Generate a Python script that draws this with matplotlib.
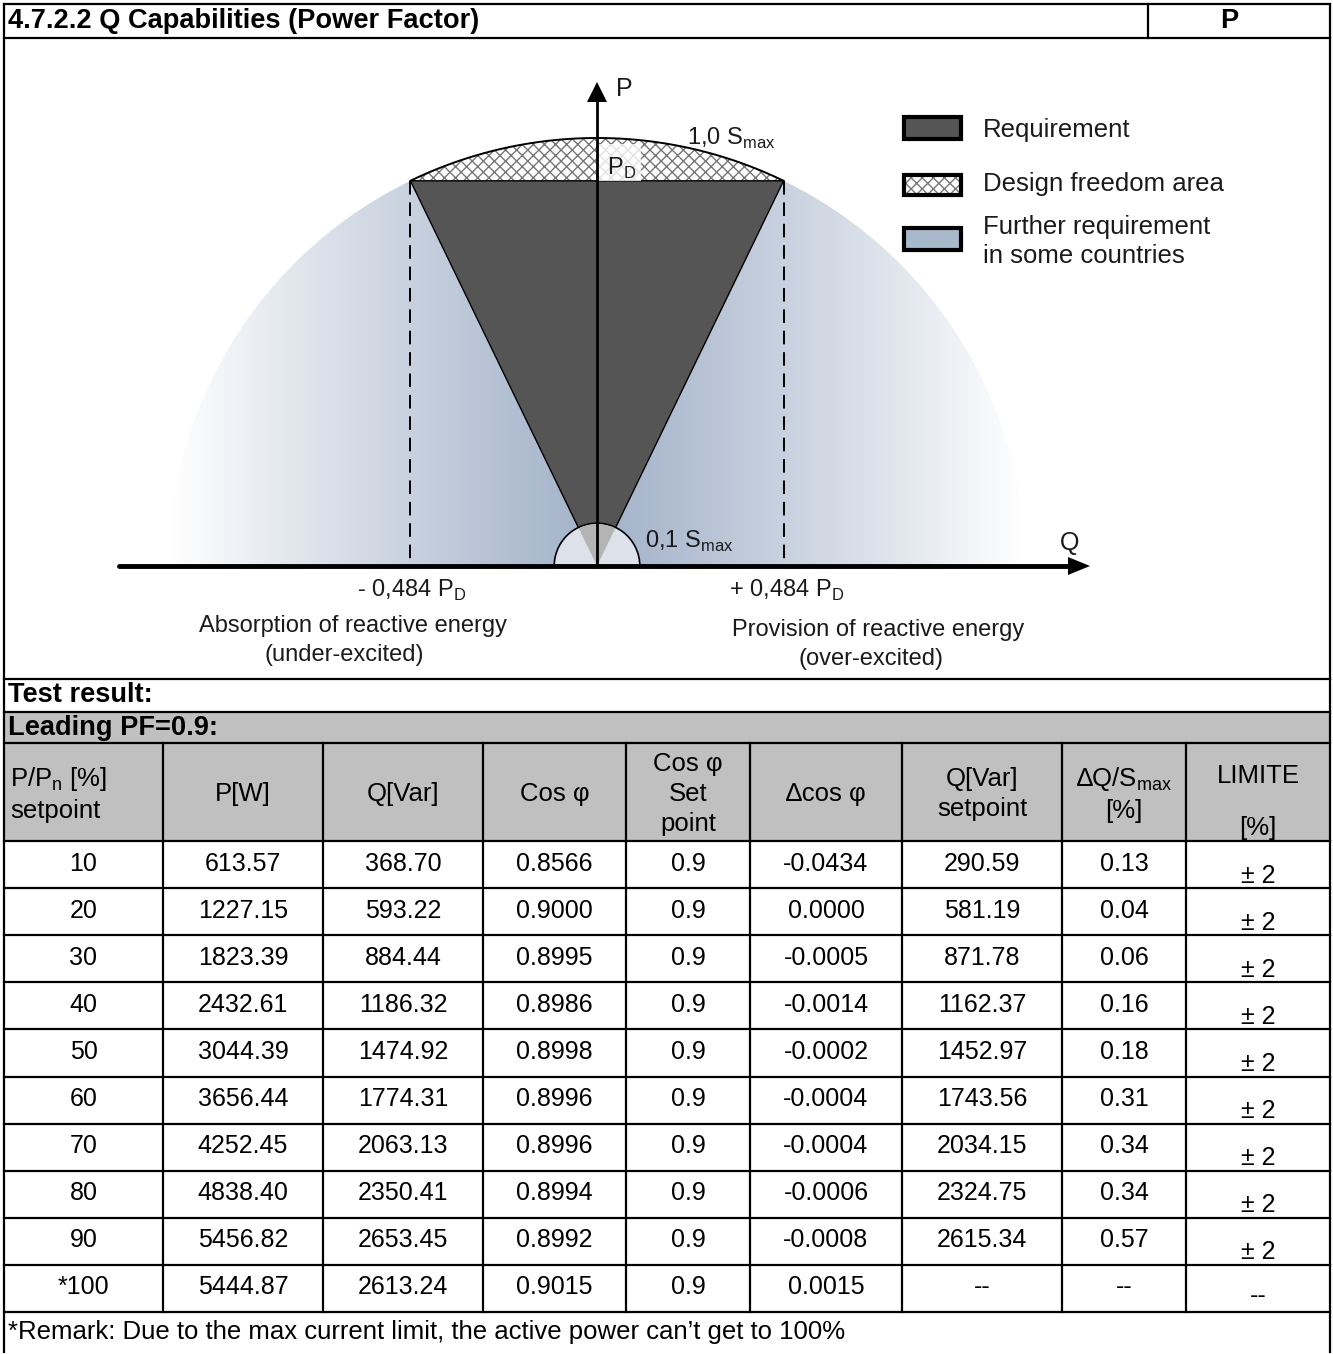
import numpy as np
import matplotlib
matplotlib.use("Agg")
import matplotlib.pyplot as plt
from matplotlib.patches import Rectangle, Polygon, Wedge, Circle

# --- table data -------------------------------------------------------
setpoint = ["10", "20", "30", "40", "50", "60", "70", "80", "90", "*100"]
p_w = ["613.57", "1227.15", "1823.39", "2432.61", "3044.39", "3656.44",
       "4252.45", "4838.40", "5456.82", "5444.87"]
q_var = ["368.70", "593.22", "884.44", "1186.32", "1474.92", "1774.31",
         "2063.13", "2350.41", "2653.45", "2613.24"]
cos_phi = ["0.8566", "0.9000", "0.8995", "0.8986", "0.8998", "0.8996",
           "0.8996", "0.8994", "0.8992", "0.9015"]
cos_set = ["0.9"] * 10
d_cos = ["-0.0434", "0.0000", "-0.0005", "-0.0014", "-0.0002", "-0.0004",
         "-0.0004", "-0.0006", "-0.0008", "0.0015"]
q_set = ["290.59", "581.19", "871.78", "1162.37", "1452.97", "1743.56",
         "2034.15", "2324.75", "2615.34", "--"]
dq_smax = ["0.13", "0.04", "0.06", "0.16", "0.18", "0.31", "0.34", "0.34",
           "0.57", "--"]
limite = ["± 2"] * 9 + ["--"]

headers = ["P/P$_\\mathrm{n}$ [%]\nsetpoint", "P[W]", "Q[Var]", "Cos φ",
           "Cos φ\nSet\npoint", "∆cos φ", "Q[Var]\nsetpoint",
           "∆Q/S$_\\mathrm{max}$\n[%]", "LIMITE\n\n[%]"]

# diagram parameters
pf = 0.9          # power factor limit
pd_ratio = 0.9    # P_D / S_max
s_min = 0.1       # 0,1 S_max

# --- fonts ------------------------------------------------------------
plt.rcParams["font.family"] = ["Liberation Sans", "DejaVu Sans"]
plt.rcParams["mathtext.fontset"] = "custom"
plt.rcParams["mathtext.rm"] = "Liberation Sans"
plt.rcParams["mathtext.sf"] = "Liberation Sans"
plt.rcParams["hatch.linewidth"] = 1.0
dsize = 17

W, H = 1333, 1354
fig = plt.figure(figsize=(W / 100, H / 100), dpi=100)
ax = fig.add_axes([0, 0, 1, 1])
ax.set_xlim(0, W)
ax.set_ylim(H, 0)
ax.axis("off")

# --- diagram ----------------------------------------------------------
cx, cy, R = 597, 566, 428
txt_c = "#1a1a1a"

# blue gradient half disc
xs = np.linspace(cx - R, cx + R, 400)
t = np.abs(xs - cx) / R
base = np.array([0.64, 0.70, 0.79])
cols = base[None, :] + (1 - base[None, :]) * (t[:, None] ** 1.1)
img = np.repeat(cols[None, :, :], 10, axis=0)
im = ax.imshow(img, extent=[cx - R, cx + R, cy, cy - R], aspect="auto",
               interpolation="bilinear", zorder=1)
im.set_clip_path(Wedge((cx, cy), R, 180, 360, transform=ax.transData))

# design freedom segment (hatched)
p_top = pd_ratio * R
q_half = p_top * np.tan(np.arccos(pf))
a0 = np.degrees(np.arcsin(p_top / R))
ang = np.radians(np.linspace(180 - a0, a0, 80))
arc = np.column_stack([cx + R * np.cos(ang), cy - R * np.sin(ang)])
ax.add_patch(Polygon(arc, closed=True, facecolor="white", edgecolor="#777777",
                     hatch="xxx", linewidth=0, zorder=2))
ax.plot(arc[:, 0], arc[:, 1], color="black", lw=1.4, zorder=3)

# requirement triangle
tri_pts = [(cx, cy), (cx - q_half, cy - p_top), (cx + q_half, cy - p_top)]
ax.add_patch(Polygon(tri_pts, closed=True, facecolor="#555555",
                     edgecolor="black", lw=1.0, zorder=3))

# small half circle 0,1 Smax
r_small = s_min * R
ax.add_patch(Wedge((cx, cy), r_small, 180, 360, facecolor="#dde2ea",
                   edgecolor="black", lw=1.2, zorder=4))
small_tri = Polygon(tri_pts, closed=True, facecolor="#b4b4b4",
                    edgecolor="none", zorder=4.5)
ax.add_patch(small_tri)
small_tri.set_clip_path(Circle((cx, cy), r_small - 1, transform=ax.transData))

# dashed verticals
for sx in (cx - q_half, cx + q_half):
    ax.plot([sx, sx], [cy - p_top, cy], color="black", lw=1.4,
            dashes=(7, 4), zorder=5)

# axes arrows
ax.plot([cx, cx], [cy, 100], color="black", lw=2.0, zorder=6)
ax.add_patch(Polygon([(cx - 10, 102), (cx + 10, 102), (cx, 82)], closed=True,
                     facecolor="black", edgecolor="none", zorder=6))
ax.plot([119, 1070], [cy, cy], color="black", lw=3.5, zorder=6,
        solid_capstyle="round")
ax.add_patch(Polygon([(1068, cy - 9), (1068, cy + 9), (1090, cy)], closed=True,
                     facecolor="black", edgecolor="none", zorder=6))

# diagram labels
ax.text(616, 89, "P", fontsize=18, va="center", color=txt_c, zorder=7)
ax.text(687, 138, "1,0 S$_\\mathsf{max}$", fontsize=dsize, va="center",
        color=txt_c, zorder=7)
ax.add_patch(Rectangle((599, 144), 42, 37, facecolor="white", edgecolor="none",
                       alpha=0.8, zorder=3.5))
ax.text(607, 168, "P$_\\mathsf{D}$", fontsize=dsize, va="center",
        color=txt_c, zorder=7)
ax.text(645, 541, "0,1 S$_\\mathsf{max}$", fontsize=dsize, va="center",
        color=txt_c, zorder=7)
ax.text(1070, 543, "Q", fontsize=18, ha="center", va="center", color=txt_c, zorder=7)
ax.text(412, 590, "- 0,484 P$_\\mathsf{D}$", fontsize=dsize, ha="center",
        va="center", color=txt_c, zorder=7)
ax.text(787, 590, "+ 0,484 P$_\\mathsf{D}$", fontsize=dsize, ha="center",
        va="center", color=txt_c, zorder=7)
ax.text(353, 626, "Absorption of reactive energy", fontsize=dsize,
        ha="center", va="center", color=txt_c, zorder=7)
ax.text(344, 655, "(under-excited)", fontsize=dsize, ha="center",
        va="center", color=txt_c, zorder=7)
ax.text(878, 630, "Provision of reactive energy", fontsize=dsize,
        ha="center", va="center", color=txt_c, zorder=7)
ax.text(871, 659, "(over-excited)", fontsize=dsize, ha="center",
        va="center", color=txt_c, zorder=7)

# legend
ax.add_patch(Rectangle((904, 117), 57, 22, facecolor="#555555",
                       edgecolor="black", lw=3, zorder=7))
ax.add_patch(Rectangle((904, 175), 57, 20, facecolor="white", edgecolor="#777777",
                       hatch="xxx", lw=0, zorder=7))
ax.add_patch(Rectangle((904, 175), 57, 20, facecolor="none",
                       edgecolor="black", lw=3, zorder=7))
ax.add_patch(Rectangle((904, 228), 57, 22, facecolor="#a8b8cd",
                       edgecolor="black", lw=3, zorder=7))
lg = 18.5
ax.text(983, 130, "Requirement", fontsize=lg, va="center", color=txt_c)
ax.text(983, 184, "Design freedom area", fontsize=lg, va="center", color=txt_c)
ax.text(983, 227, "Further requirement", fontsize=lg, va="center", color=txt_c)
ax.text(983, 256, "in some countries", fontsize=lg, va="center", color=txt_c)

# --- table frame -------------------------------------------------------
L, Rt = 4, 1330
y_title, y_diag, y_test, y_lead, y_head = 4, 38, 679, 712, 743
y_rows0 = 841
row_h = 47.1
y_rows = [y_rows0 + i * row_h for i in range(len(setpoint) + 1)]
y_end = 1352
cols_x = [L, 163, 323, 483, 626, 750, 902, 1062, 1186, Rt]
hdr_gray = "#c0c0c0"
lw = 1.6

ax.add_patch(Rectangle((L, y_lead), Rt - L, y_rows0 - y_lead, facecolor=hdr_gray,
                       edgecolor="none", zorder=0))
for y in [y_title, y_diag, y_test, y_lead, y_head] + y_rows:
    ax.plot([L, Rt], [y, y], color="black", lw=lw, zorder=8)
ax.plot([L, L], [y_title, y_end], color="black", lw=lw, zorder=8)
ax.plot([Rt, Rt], [y_title, y_end], color="black", lw=lw, zorder=8)
ax.plot([1148, 1148], [y_title, y_diag], color="black", lw=lw, zorder=8)
for x in cols_x[1:-1]:
    ax.plot([x, x], [y_head, y_rows[-1]], color="black", lw=lw, zorder=8)

fb = 19.6
ax.text(8, 21, "4.7.2.2 Q Capabilities (Power Factor)", fontsize=fb,
        weight="bold", va="center")
ax.text(1229, 21, "P", fontsize=fb, weight="bold", ha="center", va="center")
ax.text(8, 695, "Test result:", fontsize=fb, weight="bold", va="center")
ax.text(8, 728, "Leading PF=0.9:", fontsize=fb, weight="bold", va="center")

# header cells
fh = 18.5
hy = (y_head + y_rows0) / 2
for i, h in enumerate(headers):
    x0, x1 = cols_x[i], cols_x[i + 1]
    xc = (x0 + x1) / 2
    if i == 0:
        ax.text(x0 + 6, hy + 2, h, fontsize=fh, ha="left", va="center", linespacing=1.35)
    elif i == 4:
        ax.text(xc, hy + 2, h, fontsize=fh, ha="center", va="center", linespacing=1.3)
    elif i == 8:
        ax.text(xc, hy + 10, h, fontsize=fh, ha="center", va="center", linespacing=1.1)
    else:
        ax.text(xc, hy + 2, h, fontsize=fh, ha="center", va="center", linespacing=1.35)

# data cells
fd = 18
columns = [setpoint, p_w, q_var, cos_phi, cos_set, d_cos, q_set, dq_smax, limite]
for r in range(len(setpoint)):
    yc = (y_rows[r] + y_rows[r + 1]) / 2
    for c, col in enumerate(columns):
        xc = (cols_x[c] + cols_x[c + 1]) / 2
        dy = 0
        if c == 8:
            dy = 12 if col[r] != "--" else 9
        ax.text(xc, yc - 1 + dy, col[r], fontsize=fd, ha="center", va="center")

ax.text(8, 1332, "*Remark: Due to the max current limit, the active power can\u2019t get to 100%",
        fontsize=18.5, va="center")

fig.savefig("out.png", dpi=100)
